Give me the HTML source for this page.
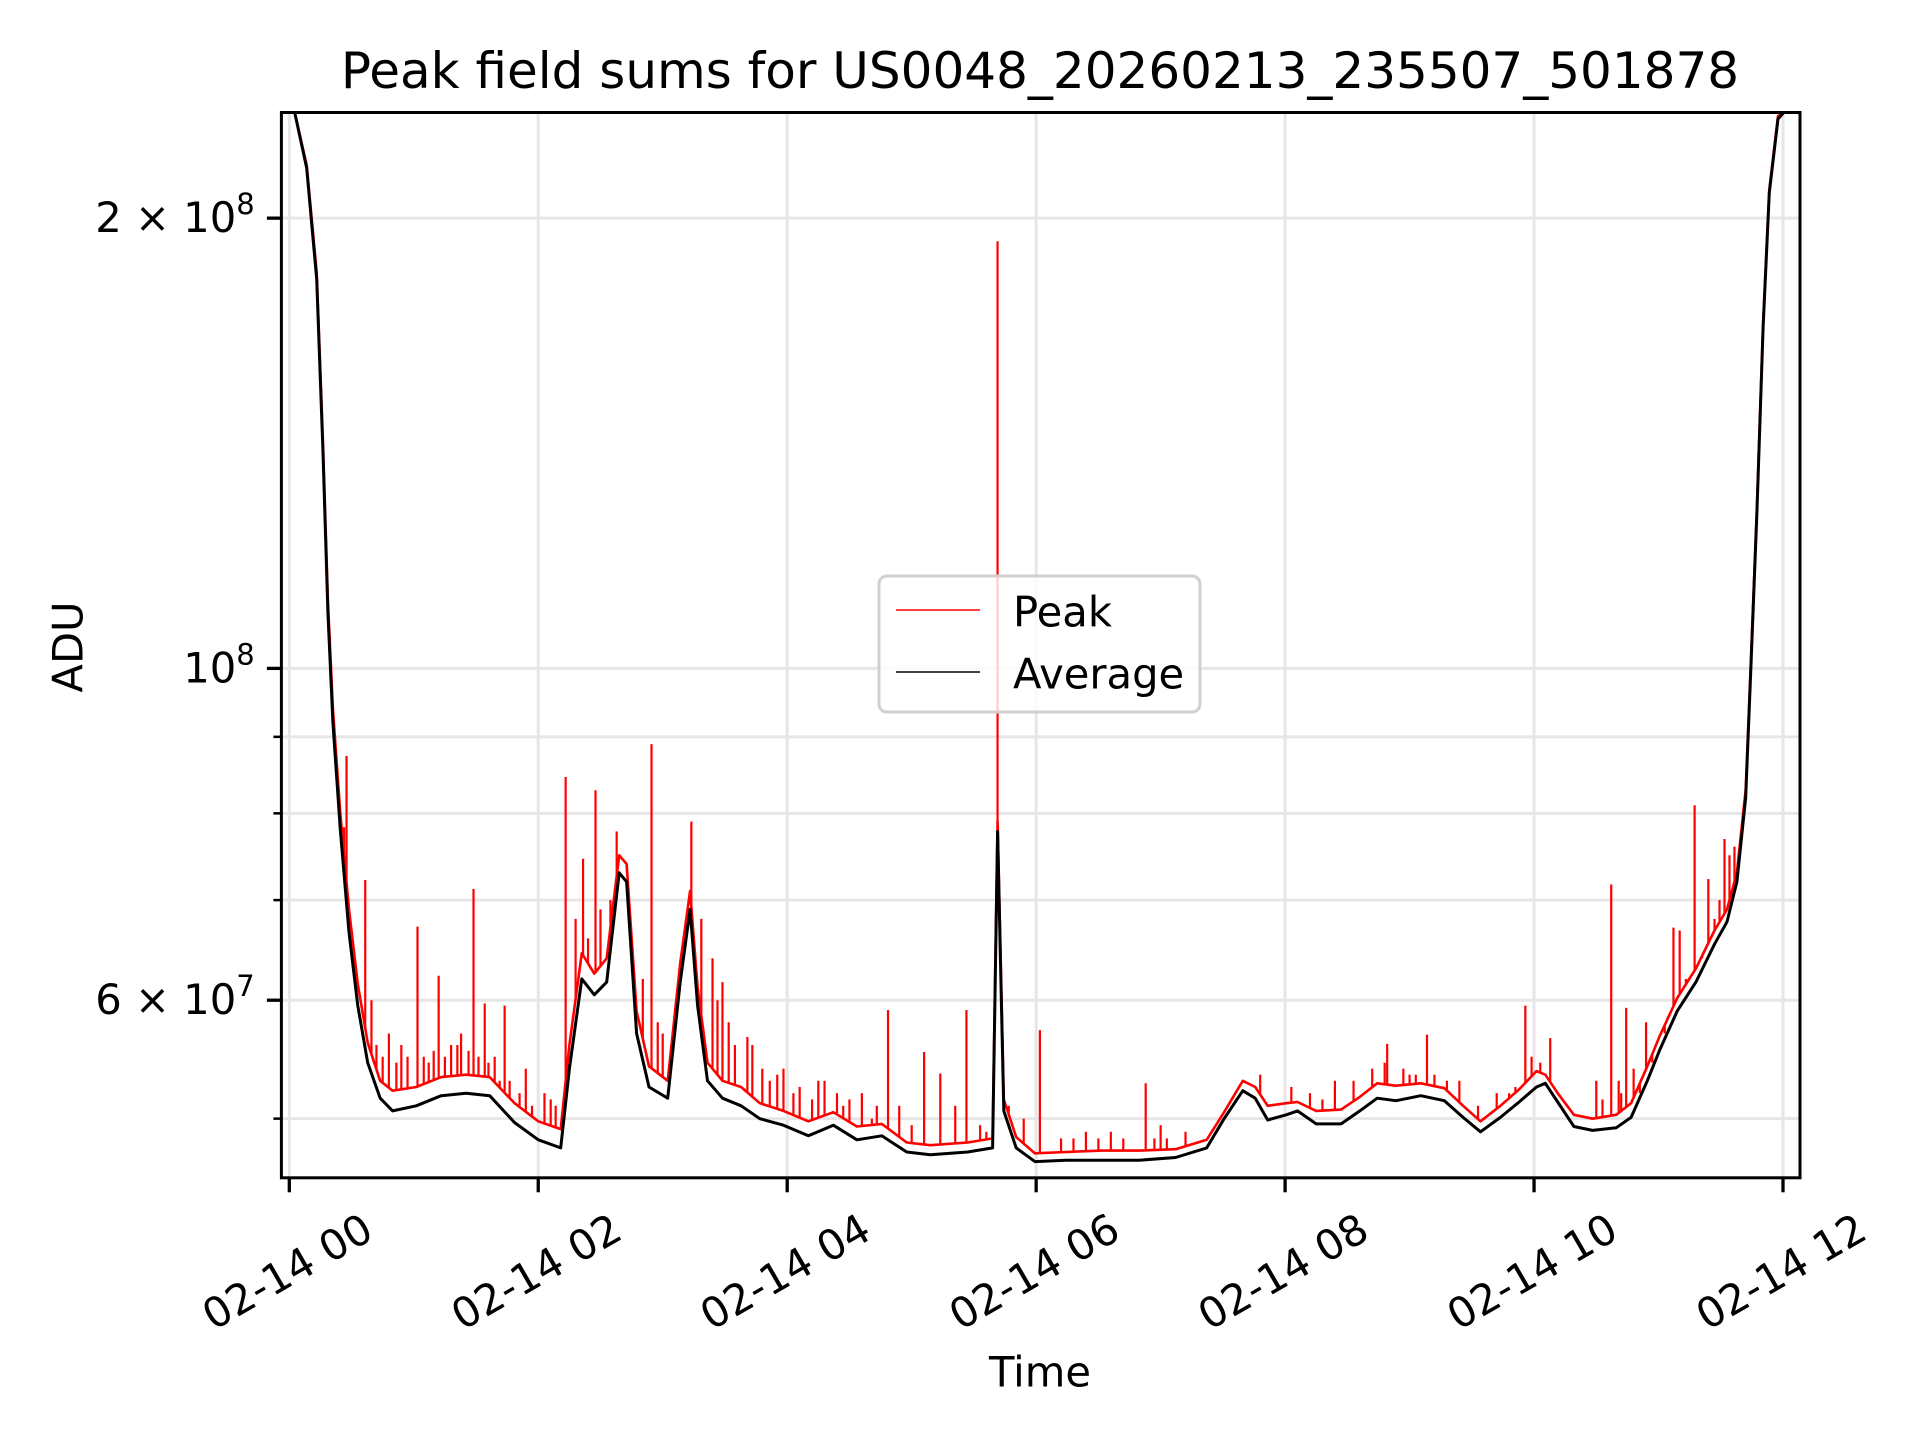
<!DOCTYPE html>
<html><head><meta charset="utf-8">
<style>
html,body{margin:0;padding:0;background:#fff;}
svg{display:block;font-family:"DejaVu Sans","Liberation Sans",sans-serif;}
</style></head>
<body>
<svg id="chart" width="1920" height="1440" viewBox="0 0 1920 1440" xmlns="http://www.w3.org/2000/svg">
<defs><clipPath id="plotclip"><rect x="281.4" y="112.5" width="1518.6" height="1065.3"/></clipPath></defs>
<rect x="0" y="0" width="1920" height="1440" fill="#fff"/>
<g id="grid"></g>
<g id="series" clip-path="url(#plotclip)"></g>
<rect x="281.4" y="112.5" width="1518.6" height="1065.3" fill="none" stroke="#000" stroke-width="3"/>
<g id="ticks"></g>
<text x="1040" y="71" font-size="50" text-anchor="middle" dominant-baseline="central">Peak field sums for US0048_20260213_235507_501878</text>
<text x="1040" y="1372" font-size="41.7" text-anchor="middle" dominant-baseline="central">Time</text>
<text x="0" y="0" font-size="41.7" text-anchor="middle" dominant-baseline="central" transform="translate(68,647) rotate(-90)">ADU</text>
<g>
<rect x="879" y="576" width="321" height="136" rx="8" fill="#fff" fill-opacity="0.8" stroke="#d0d0d0" stroke-width="3"/>
<line x1="896" y1="610" x2="980" y2="610" stroke="#f00" stroke-width="1.5"/>
<text x="1013" y="612" font-size="41.7" dominant-baseline="central">Peak</text>
<line x1="896" y1="672" x2="980" y2="672" stroke="#000" stroke-width="1.5"/>
<text x="1013" y="674" font-size="41.7" dominant-baseline="central">Average</text>
</g>
</svg>
<script>
// time in hours since 02-14 00, values in units of 1e7 ADU
const times = [-0.06,0.04,0.14,0.22,0.27,0.31,0.35,0.41,0.48,0.55,0.63,0.73,0.83,1.02,1.22,1.42,1.61,1.81,2.0,2.18,2.25,2.35,2.45,2.55,2.65,2.71,2.79,2.89,3.04,3.14,3.22,3.28,3.36,3.48,3.63,3.78,3.97,4.17,4.37,4.56,4.76,4.96,5.15,5.45,5.65,5.69,5.74,5.84,5.99,6.24,6.53,6.83,7.12,7.37,7.51,7.66,7.76,7.86,8.01,8.1,8.25,8.45,8.6,8.74,8.89,9.09,9.28,9.43,9.57,9.73,9.88,10.02,10.09,10.19,10.32,10.47,10.66,10.78,10.91,11.01,11.15,11.3,11.45,11.55,11.63,11.7,11.74,11.79,11.84,11.89,11.96,12.02,12.12];
const average = [23.6,23.6,21.6,18.2,14.0,10.9,9.2,7.8,6.66,5.95,5.45,5.16,5.06,5.1,5.18,5.2,5.18,4.97,4.84,4.78,5.4,6.2,6.05,6.17,7.3,7.2,5.7,5.25,5.16,6.17,6.9,5.95,5.3,5.16,5.1,5.0,4.95,4.87,4.95,4.84,4.87,4.75,4.73,4.75,4.78,7.78,5.06,4.78,4.68,4.69,4.69,4.69,4.71,4.78,5.0,5.22,5.16,4.99,5.03,5.06,4.96,4.96,5.06,5.16,5.14,5.18,5.14,5.01,4.9,5.01,5.13,5.25,5.28,5.13,4.94,4.91,4.93,5.01,5.3,5.56,5.9,6.17,6.54,6.77,7.2,8.2,9.9,12.7,16.9,20.8,23.3,23.6,23.6];
const peak = [23.6,23.6,21.7,18.4,14.2,11.1,9.4,8.0,6.9,6.15,5.62,5.3,5.22,5.25,5.33,5.35,5.33,5.12,4.98,4.92,5.6,6.45,6.25,6.4,7.5,7.4,5.9,5.42,5.3,6.35,7.1,6.12,5.45,5.3,5.25,5.12,5.06,4.98,5.05,4.94,4.96,4.82,4.8,4.82,4.85,7.9,5.15,4.86,4.74,4.75,4.76,4.76,4.77,4.84,5.05,5.3,5.25,5.1,5.12,5.13,5.06,5.07,5.17,5.28,5.26,5.28,5.24,5.1,4.98,5.1,5.23,5.38,5.35,5.2,5.03,5.0,5.03,5.12,5.42,5.68,6.02,6.3,6.68,6.9,7.3,8.3,10.0,12.8,17.0,20.9,23.4,23.6,23.6];
const spikeTimes = [0.44,0.46,0.61,0.8,0.9,1.03,1.2,1.3,1.48,1.57,1.65,1.73,1.9,2.05,2.22,2.36,2.46,2.63,2.91,3.1,3.23,3.4,3.48,3.68,3.8,3.97,4.3,4.6,4.81,5.1,5.23,5.35,5.44,5.69,5.9,6.03,6.4,6.6,6.88,7.0,8.4,8.7,8.82,9.14,9.4,9.7,9.93,10.13,10.5,10.62,10.74,10.9,11.12,11.17,11.29,11.4,11.53,11.61,
  0.66,0.7,0.75,0.86,0.95,1.08,1.12,1.16,1.25,1.35,1.38,1.44,1.52,1.6,1.69,1.77,1.85,1.95,2.1,2.14,2.3,2.4,2.5,2.58,2.84,2.96,3.0,3.18,3.31,3.44,3.53,3.58,3.72,3.86,3.92,4.05,4.1,4.2,4.25,4.4,4.45,4.5,4.68,4.72,4.9,5.0,5.55,5.6,5.78,6.2,6.3,6.5,6.7,6.95,7.05,7.2,7.8,8.05,8.2,8.3,8.55,8.8,8.95,9.0,9.05,9.2,9.3,9.55,9.8,9.85,9.98,10.05,10.55,10.68,10.7,10.8,10.85,10.95,11.05,11.22,11.35,11.45,11.49,11.57];
const spikeValues = [7.83,8.74,7.22,5.7,5.6,6.72,6.23,5.6,7.12,5.97,5.5,5.95,5.4,5.2,8.46,7.46,8.29,7.78,8.9,5.8,7.9,6.4,6.17,5.67,5.4,5.4,5.3,5.2,5.91,5.54,5.36,5.1,5.91,19.3,5.0,5.73,4.9,4.9,5.28,4.95,5.3,5.4,5.61,5.69,5.3,5.2,5.95,5.66,5.3,7.17,5.93,5.8,6.71,6.68,8.1,7.23,7.69,7.6,
  6.0,5.6,5.5,5.45,5.5,5.5,5.45,5.55,5.5,5.6,5.7,5.55,5.5,5.45,5.3,5.3,5.2,5.1,5.15,5.1,6.8,6.6,6.9,7.0,6.2,5.8,5.7,6.5,6.8,6.0,5.8,5.6,5.6,5.3,5.35,5.2,5.25,5.15,5.3,5.2,5.1,5.15,5.0,5.1,5.1,4.95,4.95,4.9,5.1,4.85,4.85,4.85,4.85,4.85,4.85,4.9,5.35,5.25,5.2,5.15,5.3,5.45,5.4,5.35,5.35,5.35,5.3,5.1,5.2,5.25,5.5,5.45,5.15,5.3,5.2,5.4,5.2,5.45,5.7,6.2,6.4,6.8,7.0,7.5];
const xTickHours = [0,2,4,6,8,10,12];
const xTickLabels = ["02-14 00","02-14 02","02-14 04","02-14 06","02-14 08","02-14 10","02-14 12"];
const yMajor = [6,10,20];
const yMajorLabels = [["6","7"],["","8"],["2","8"]];
const yMinor = [5,7,8,9];

const NS = "http://www.w3.org/2000/svg";
const X0 = 289.3, PXH = (1783-289.3)/12;
const L=281.4, R=1800, T=112.5, B=1177.8;
function xs(h){ return X0 + h*PXH; }
function ys(v){ return 668.4 - (Math.log10(v*1e7) - 8)*1495.7; }
function mk(tag, attrs, parent){ const e=document.createElementNS(NS,tag); for(const k in attrs) e.setAttribute(k,attrs[k]); parent.appendChild(e); return e; }
const grid=document.getElementById('grid'), ser=document.getElementById('series'), tk=document.getElementById('ticks');

xTickHours.forEach((h,i)=>{
  const l=mk('line',{x1:xs(h),x2:xs(h),y1:T,y2:B,stroke:'#e6e6e6','stroke-width':3},grid);
  
  
  const t=mk('line',{x1:xs(h),x2:xs(h),y1:B,y2:B+14.5,stroke:'#000','stroke-width':3.3},tk);
  
  
  const tx=mk('text',{x:0,y:0,'font-size':41.7,'text-anchor':'middle','dominant-baseline':'central',transform:`translate(${xs(h)-2},1271.6) rotate(-30)`},tk);
  tx.textContent=xTickLabels[i];
  
  
});
yMajor.concat(yMinor).forEach(v=>{
  const l=mk('line',{x1:L,x2:R,y1:ys(v),y2:ys(v),stroke:'#e6e6e6','stroke-width':3},grid);
  
  
});
yMinor.forEach(v=>{
  const t=mk('line',{x1:L-8,x2:L,y1:ys(v),y2:ys(v),stroke:'#000','stroke-width':2.5},tk);
  
  
});
yMajor.forEach((v,i)=>{
  const t=mk('line',{x1:L-14.5,x2:L,y1:ys(v),y2:ys(v),stroke:'#000','stroke-width':3.3},tk);
  
  
  const tx=mk('text',{x:254.7,y:ys(v)+14,'font-size':41.7,'text-anchor':'end'},tk);
  
  
  const lab=yMajorLabels[i];
  tx.textContent=(lab[0]?lab[0]+" \u00d7 ":"")+"10";
  const sup=mk('tspan',{dy:-18,'font-size':29},tx);
  sup.textContent=lab[1];
});

function pathFrom(vals){ return vals.map((v,i)=>(i?'L':'M')+xs(times[i]).toFixed(1)+','+ys(v).toFixed(1)).join(''); }
function interp(arr,h){ for(let i=1;i<times.length;i++){ if(h<=times[i]){ const f=(h-times[i-1])/(times[i]-times[i-1]); return arr[i-1]+(arr[i]-arr[i-1])*f; } } return arr[arr.length-1]; }

const pp=mk('path',{d:pathFrom(peak),fill:'none',stroke:'#f00','stroke-width':2.6,'stroke-linejoin':'round'},ser);


spikeTimes.forEach((h,i)=>{
  const s=mk('line',{x1:xs(h),x2:xs(h),y1:ys(interp(peak,h)),y2:ys(spikeValues[i]),stroke:'#f00','stroke-width':2.2},ser);
  
  
});
const ap=mk('path',{d:pathFrom(average),fill:'none',stroke:'#000','stroke-width':3,'stroke-linejoin':'round'},ser);


</script>
</body></html>
